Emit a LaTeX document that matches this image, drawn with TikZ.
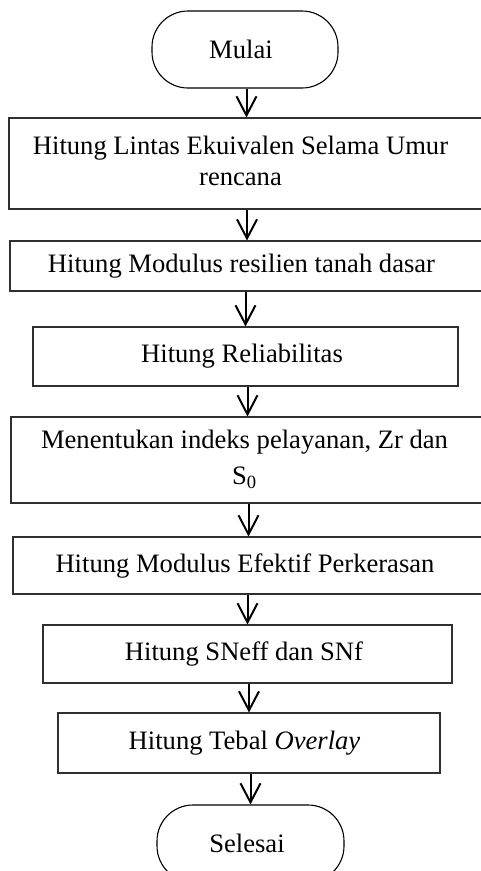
\documentclass[tikz,border=0pt]{standalone}
\usepackage{fontspec}
\setmainfont{Liberation Serif}
\usetikzlibrary{arrows.meta}
\definecolor{boxline}{HTML}{303030}
\begin{document}
\begin{tikzpicture}[x=1pt,y=-1pt,
  every node/.style={font=\fontsize{26.6pt}{31pt}\selectfont, text=black},
  stepbox/.style={draw=boxline, line width=1.1pt, rectangle, inner sep=0pt},
  termbox/.style={draw=black, line width=1.1pt, rectangle, rounded corners=36pt, inner sep=0pt},
  arr/.style={draw=black, line width=2pt, -{Straight Barb[length=19pt,width=20pt]}}
]
\useasboundingbox (0,0) rectangle (481,871);
\fill[white] (0,0) rectangle (481,871);

\node[termbox, minimum width=186pt, minimum height=77pt] (start) at (245,49.5) {\kern-8pt Mulai};

\node[stepbox, minimum width=475pt, minimum height=91pt] (b1) at (246.5,163.5)
  {\kern-12pt\begin{tabular}{@{}c@{}}Hitung Lintas Ekuivalen Selama Umur\\ rencana\end{tabular}};

\node[stepbox, minimum width=474pt, minimum height=50pt] (b2) at (247,266)
  {\kern-11pt Hitung Modulus resilien tanah dasar};

\node[stepbox, minimum width=425pt, minimum height=59pt] (b3) at (245.5,356.5)
  {\kern-7pt Hitung Reliabilitas};

\node[stepbox, minimum width=473pt, minimum height=86pt] (b4) at (247.5,460)
  {\kern-6pt\begin{tabular}{@{}c@{}}Menentukan indeks pelayanan, Zr dan\\[5pt] S\textsubscript{0}\end{tabular}};

\node[stepbox, minimum width=471pt, minimum height=57pt] (b5) at (248.5,565.5)
  {\kern-7pt Hitung Modulus Efektif Perkerasan};

\node[stepbox, minimum width=409pt, minimum height=58pt] (b6) at (247.5,654)
  {\kern-7pt Hitung SNeff dan SNf};

\node[stepbox, minimum width=382pt, minimum height=60pt] (b7) at (249,743)
  {\kern-9pt Hitung Tebal \textit{Overlay}};

\node[termbox, minimum width=187pt, minimum height=77pt] (end) at (250.5,843.5) {\kern-7pt Selesai};

\draw[arr] (b1.north |- start.south) -- (b1.north);
\draw[arr] (b2.north |- b1.south) -- (b2.north);
\draw[arr] (b3.north |- b2.south) -- (b3.north);
\draw[arr] (b4.north |- b3.south) -- (b4.north);
\draw[arr] (b5.north |- b4.south) -- (b5.north);
\draw[arr] (b6.north |- b5.south) -- (b6.north);
\draw[arr] (b7.north |- b6.south) -- (b7.north);
\draw[arr] (end.north |- b7.south) -- (end.north);
\end{tikzpicture}
\end{document}
